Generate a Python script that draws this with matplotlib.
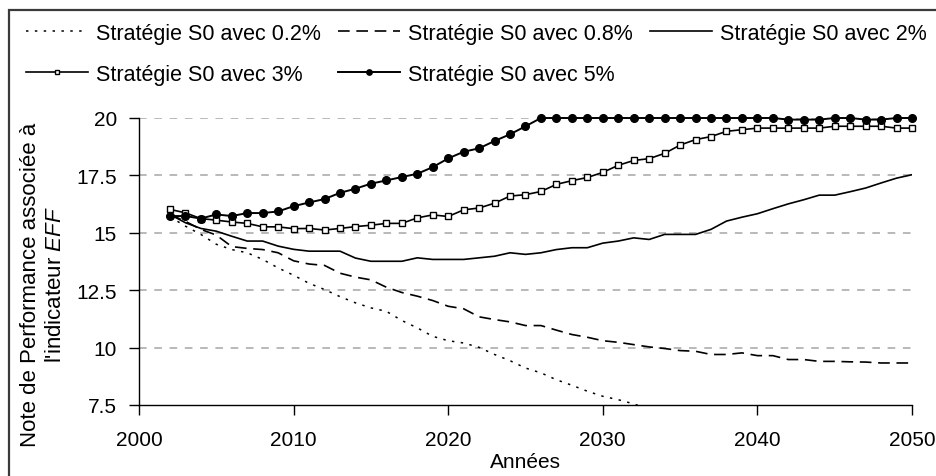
import numpy as np
import matplotlib
matplotlib.use("Agg")
import matplotlib.pyplot as plt
from matplotlib.patches import Rectangle

plt.rcParams["font.family"] = ["Liberation Sans", "DejaVu Sans"]
plt.rcParams["mathtext.fontset"] = "custom"
plt.rcParams["mathtext.rm"] = "Liberation Sans"
plt.rcParams["mathtext.it"] = "Liberation Sans:italic"

# ── Data ──────────────────────────────────────────────────────────────────────
years = np.arange(2002, 2051)
years_02 = np.arange(2002, 2034)

s0_02 = [15.70, 15.29, 14.93, 14.50, 14.27, 14.13, 13.84, 13.47, 13.15, 12.80,
         12.53, 12.22, 11.95, 11.73, 11.58, 11.18, 10.86, 10.49, 10.30, 10.20,
         10.01, 9.70, 9.43, 9.11, 8.90, 8.60, 8.36, 8.10, 7.88, 7.73,
         7.55, 7.30]

s0_08 = [15.80, 15.50, 15.15, 14.90, 14.40, 14.32, 14.27, 14.13, 13.78, 13.64,
         13.58, 13.24, 13.07, 12.95, 12.63, 12.40, 12.24, 12.05, 11.80, 11.69,
         11.34, 11.22, 11.12, 10.96, 10.96, 10.76, 10.57, 10.45, 10.30, 10.23,
         10.13, 10.03, 9.96, 9.87, 9.84, 9.70, 9.70, 9.77, 9.65, 9.65,
         9.48, 9.48, 9.40, 9.40, 9.38, 9.37, 9.33, 9.33, 9.33]

s0_2 = [15.80, 15.44, 15.19, 15.07, 14.85, 14.64, 14.64, 14.42, 14.28, 14.20,
        14.20, 14.20, 13.90, 13.76, 13.76, 13.76, 13.91, 13.84, 13.84, 13.84,
        13.91, 13.98, 14.13, 14.06, 14.13, 14.27, 14.35, 14.35, 14.55, 14.64,
        14.78, 14.71, 14.93, 14.93, 14.93, 15.15, 15.51, 15.68, 15.83, 16.05,
        16.26, 16.44, 16.64, 16.64, 16.79, 16.95, 17.17, 17.38, 17.53]

s0_3 = [16.02, 15.87, 15.62, 15.55, 15.47, 15.41, 15.26, 15.26, 15.18, 15.19,
        15.12, 15.19, 15.27, 15.33, 15.41, 15.41, 15.65, 15.78, 15.71, 16.00,
        16.08, 16.29, 16.60, 16.66, 16.80, 17.11, 17.27, 17.41, 17.63, 17.94,
        18.15, 18.23, 18.46, 18.82, 19.06, 19.19, 19.42, 19.49, 19.56, 19.56,
        19.56, 19.56, 19.56, 19.64, 19.64, 19.64, 19.64, 19.56, 19.56]

s0_5 = [15.73, 15.73, 15.62, 15.80, 15.73, 15.86, 15.86, 15.93, 16.16, 16.32,
        16.47, 16.74, 16.92, 17.14, 17.28, 17.43, 17.57, 17.86, 18.24, 18.53,
        18.68, 19.00, 19.29, 19.64, 20.00, 20.00, 20.00, 20.00, 20.00, 20.00,
        20.00, 20.00, 20.00, 20.00, 20.00, 20.00, 20.00, 20.00, 20.00, 20.00,
        19.93, 19.93, 19.93, 20.00, 20.00, 19.93, 19.93, 20.00, 20.00]

labels = ["Stratégie S0 avec 0.2%", "Stratégie S0 avec 0.8%",
          "Stratégie S0 avec 2%", "Stratégie S0 avec 3%",
          "Stratégie S0 avec 5%"]

y_ticks = [7.5, 10, 12.5, 15, 17.5, 20]
y_tick_labels = ["7.5", "10", "12.5", "15", "17.5", "20"]
x_ticks = [2000, 2010, 2020, 2030, 2040, 2050]

# ── Figure ────────────────────────────────────────────────────────────────────
W, H = 937, 477
fig = plt.figure(figsize=(W / 100, H / 100), dpi=100, facecolor="white")
ax = fig.add_axes([139 / W, 1 - 406 / H, (912 - 139) / W, (406 - 119) / H])

for yv in y_ticks[1:]:
    ax.axhline(yv, color="#a6a6a6", lw=1.1, ls=(0, (5, 5)), zorder=0)

l1, = ax.plot(years_02, s0_02, color="black", lw=1.1, ls=(0, (1.6, 4.2)))
l2, = ax.plot(years, s0_08, color="black", lw=1.2, ls=(0, (7, 4)))
l3, = ax.plot(years, s0_2, color="black", lw=1.2)
l4, = ax.plot(years, s0_3, color="black", lw=1.2, marker="s", ms=5,
              mfc="white", mec="black", mew=1.0, clip_on=False)
l5, = ax.plot(years, s0_5, color="black", lw=1.4, marker="o", ms=5.5,
              mfc="black", mec="black", clip_on=False)

ax.set_xlim(2000, 2050)
ax.set_ylim(7.5, 20)
ax.set_xticks(x_ticks)
ax.set_yticks(y_ticks)
ax.set_yticklabels(y_tick_labels)
ax.tick_params(axis="y", direction="out", length=7, width=1, pad=9,
               labelsize=15)
ax.tick_params(axis="x", direction="out", length=7, width=1, pad=11,
               labelsize=15)
ax.spines[["top", "right"]].set_visible(False)
ax.spines[["left", "bottom"]].set_color("black")
ax.spines[["left", "bottom"]].set_linewidth(1.0)
ax.set_facecolor("white")

ax.set_xlabel("Années", fontsize=15, labelpad=2)

fig.text(43 / W, 1 - 285 / H,
         "Note de Performance associée à\nl'indicateur $\\mathit{EFF}$",
         rotation=90, ha="center", va="center", multialignment="center",
         fontsize=16, linespacing=1.3)

# legend is filled column by column: reorder so rows read 0.2/0.8/2, 3/5
order = [0, 3, 1, 4, 2]
handles = [l1, l2, l3, l4, l5]
fig.legend([handles[i] for i in order], [labels[i] for i in order],
           ncol=3, loc="upper left",
           bbox_to_anchor=(26 / W, 1 - 24 / H), frameon=False,
           fontsize=15.5, handlelength=2.9, handletextpad=0.35,
           columnspacing=0.8, labelspacing=0.92, borderpad=0,
           borderaxespad=0, markerscale=0.7)

# outer border (chart frame, clipped at right/bottom as in reference)
fig.patches.append(Rectangle((8.7 / W, -0.1), 1.2, 1 - 11 / H + 0.1,
                             transform=fig.transFigure, fill=False,
                             ec="#3a3a3a", lw=1.6))

fig.savefig("out.png", dpi=100, facecolor="white")
